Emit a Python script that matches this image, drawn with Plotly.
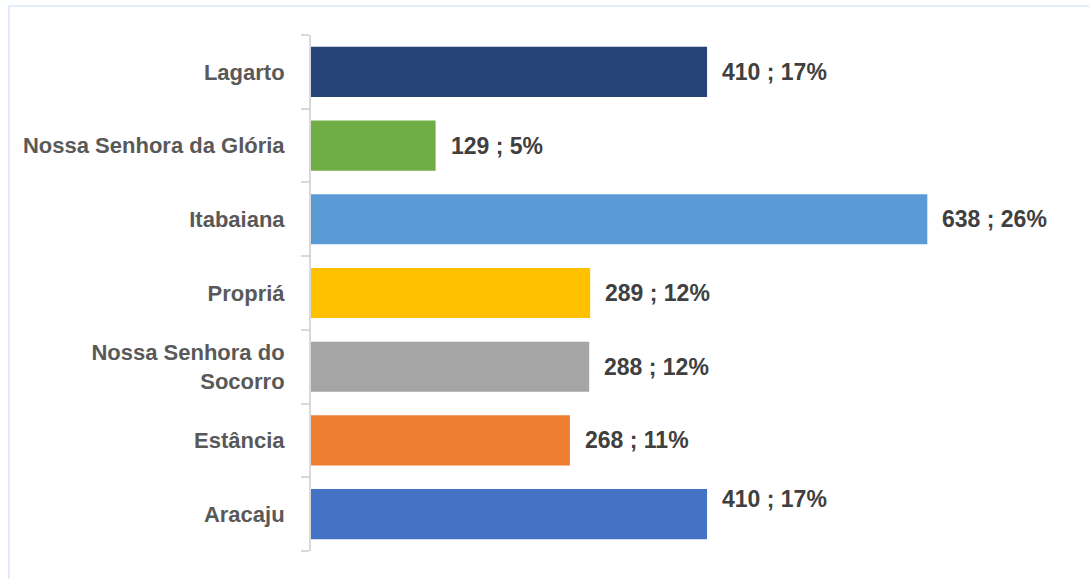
import plotly.graph_objects as go

categories = ["Aracaju", "Estância", "Nossa Senhora do<br>Socorro", "Propriá",
              "Itabaiana", "Nossa Senhora da Glória", "Lagarto"]
values = [410, 268, 288, 289, 638, 129, 410]
percents = [17, 11, 12, 12, 26, 5, 17]
colors = ["#4472C4", "#ED7D31", "#A5A5A5", "#FFC000", "#5B9BD5", "#70AD47", "#264478"]
label_yshift = [15, 0, 0, 0, 0, 0, 0]

W, H = 1089, 579
ml, mr, mt, mb = 311, 14, 35, 28
pw, ph = W - ml - mr, H - mt - mb

fig = go.Figure(go.Bar(
    y=categories, x=values, orientation="h",
    marker=dict(color=colors, line=dict(width=0)),
    hoverinfo="skip",
))

for c, v, p, ys in zip(categories, values, percents, label_yshift):
    fig.add_annotation(
        x=v, y=c, xref="x", yref="y", text=f"<b>{v} ; {p}%</b>",
        showarrow=False, xanchor="left", xshift=13, yshift=ys,
        font=dict(family="Liberation Sans, Arial, sans-serif", size=23, color="#404040"),
    )

# outer light border
fig.add_shape(type="rect", xref="paper", yref="paper",
              x0=(9 - ml) / pw, x1=(W + 20 - ml) / pw,
              y0=-(mb + 20) / ph, y1=1 + (mt - 6) / ph,
              line=dict(color="#DAE8F7", width=1.5), fillcolor="rgba(0,0,0,0)", layer="below")

fig.update_layout(
    width=W, height=H,
    margin=dict(l=ml, r=mr, t=mt, b=mb, pad=0),
    paper_bgcolor="white", plot_bgcolor="white",
    bargap=0.32, showlegend=False,
    xaxis=dict(range=[0, pw / 0.966], visible=False, fixedrange=True),
    yaxis=dict(
        showline=True, linecolor="#D9D9D9", linewidth=2,
        ticks="outside", ticklen=8, tickcolor="#D9D9D9", tickwidth=2,
        tickson="boundaries", showgrid=False, ticklabelstandoff=20, fixedrange=True,
        tickfont=dict(family="Liberation Sans, Arial, sans-serif", size=22, color="#595959", weight="bold"),
    ),
)

fig.write_html("out.html", config={"displayModeBar": False},
               post_script="document.body.style.margin='0';")
